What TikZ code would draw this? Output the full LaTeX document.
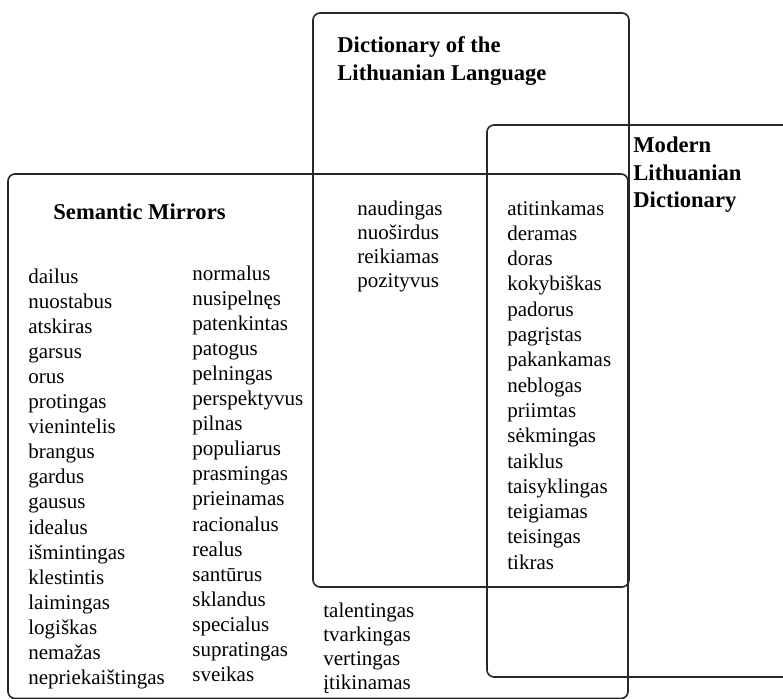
\documentclass[tikz,border=0pt]{standalone}
\usepackage{fontspec}
\setmainfont{Liberation Serif}

\tikzset{
  setbox/.style={draw=black!85, line width=0.8pt, rounded corners=3.5pt},
  word/.style={anchor=base west, inner sep=0pt, font=\fontsize{10.5}{12.4}\selectfont},
  head/.style={anchor=base west, inner sep=0pt, font=\bfseries\fontsize{11.3}{13.5}\selectfont}
}

\begin{document}
\begin{tikzpicture}[x=0.5pt, y=-0.5pt]

\useasboundingbox (0,0) rectangle (783,698);
\clip (0,0) rectangle (783,698);

\draw[setbox] (313,13) rectangle (629,587);
\draw[setbox] (8,174) rectangle (628,698.5);
\draw[setbox] (487,125) rectangle (830,677);

\node[head] (dlt1) at (337,52) {Dictionary of the};
\node[head] (dlt2) at (337,80) {Lithuanian Language};

\node[head] (mld1) at (633,152) {Modern};
\node[head] (mld2) at (633,180) {Lithuanian};
\node[head] (mld3) at (633,207) {Dictionary};

\node[head] (sm) at (53,219) {Semantic Mirrors};

\foreach \w [count=\i] in {dailus, nuostabus, atskiras, garsus, orus, protingas,
  vienintelis, brangus, gardus, gausus, idealus, išmintingas, klestintis,
  laimingas, logiškas, nemažas, nepriekaištingas}
  \node[word] (smA\i) at (28,{283+(\i-1)*25.1}) {\w};

\foreach \w [count=\i] in {normalus, nusipelnęs, patenkintas, patogus, pelningas,
  perspektyvus, pilnas, populiarus, prasmingas, prieinamas, racionalus, realus,
  santūrus, sklandus, specialus, supratingas, sveikas}
  \node[word] (smB\i) at (192,{280+(\i-1)*25.1}) {\w};

\foreach \w [count=\i] in {naudingas, nuoširdus, reikiamas, pozityvus}
  \node[word] (dlt-sm\i) at (357,{215+(\i-1)*24}) {\w};

\foreach \w [count=\i] in {atitinkamas, deramas, doras, kokybiškas, padorus,
  pagrįstas, pakankamas, neblogas, priimtas, sėkmingas, taiklus, taisyklingas,
  teigiamas, teisingas, tikras}
  \node[word] (all\i) at (507,{215+(\i-1)*25.3}) {\w};

\foreach \w [count=\i] in {talentingas, tvarkingas, vertingas, įtikinamas}
  \node[word] (mld-sm\i) at (323,{617+(\i-1)*24}) {\w};

\end{tikzpicture}
\end{document}
